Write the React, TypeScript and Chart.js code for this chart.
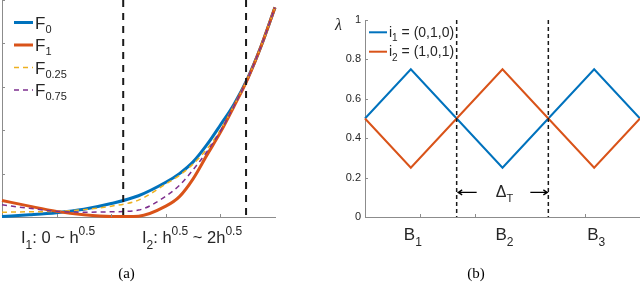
import React, { useEffect, useRef } from "react";
import { Chart, registerables } from "chart.js";
Chart.register(...registerables);

// ---------- Panel (a) data ----------
const aX = [0, 0.5, 1, 1.5, 2, 2.5, 3, 3.25, 3.5, 3.75, 4, 4.25, 4.5, 4.75, 5];
const aF0 = [0.01, 0.05, 0.1, 0.18, 0.31, 0.49, 0.8, 1.0, 1.27, 1.66, 2.12, 2.6, 3.2, 3.95, 4.83];
const aF1 = [0.38, 0.25, 0.13, 0.05, 0.01, 0.02, 0.25, 0.47, 0.88, 1.42, 1.95, 2.55, 3.18, 3.95, 4.83];
const aF025 = [0.11, 0.12, 0.13, 0.17, 0.25, 0.39, 0.76, 0.96, 1.22, 1.56, 2.0, 2.57, 3.19, 3.95, 4.83];
const aF075 = [0.28, 0.2, 0.13, 0.11, 0.12, 0.16, 0.48, 0.73, 1.09, 1.5, 1.98, 2.56, 3.19, 3.95, 4.83];
const aLegendBase = "F";
const aLegendSubs = ["0", "1", "0.25", "0.75"];
const aDividers = [2.22, 4.47];
const aXTicks = [1, 2, 3, 4];
const aYTicks = [1, 2, 3, 4, 5];

// ---------- Panel (b) data ----------
const bX = [0, 0.5, 1, 1.5, 2, 2.5, 3];
const bI1 = [0.5, 0.75, 0.5, 0.25, 0.5, 0.75, 0.5];
const bI2 = [0.5, 0.25, 0.5, 0.75, 0.5, 0.25, 0.5];
const bLegendSubs = ["1", "2"];
const bLegendRest = [" = (0,1,0)", " = (1,0,1)"];
const bDividers = [1, 2];
const bXTicks = [0.6, 1.2, 2.4];
const bYTicks = [0, 0.2, 0.4, 0.6, 0.8, 1];
const bBlockSubs = ["1", "2", "3"];
const bBlockCenters = [0.5, 1.5, 2.5];
const bDeltaLevel = 0.125;

// ---------- styles ----------
const SANS = "'Liberation Sans', Arial, Helvetica, sans-serif";
const SERIF = "'Liberation Serif', 'Times New Roman', serif";
const AXIS = "#8c8c8c";
const TEXT = "#262626";
const aColors = ["#0072BD", "#D95319", "#EDB120", "#7E2F8E"];
const bColors = ["#0072BD", "#D95319"];

type Part = [string, "n" | "sub" | "sup"];

function drawRich(
  ctx: CanvasRenderingContext2D,
  x: number,
  y: number,
  parts: Part[],
  size: number,
  subSize: number,
  subDy: number,
  supDy: number,
  align: "left" | "center" = "left",
  family: string = SANS,
  color: string = TEXT
) {
  const fontFor = (m: string) => `${m === "n" ? size : subSize}px ${family}`;
  let total = 0;
  for (const [t, m] of parts) {
    ctx.font = fontFor(m);
    total += ctx.measureText(t).width;
  }
  let cx = align === "center" ? x - total / 2 : x;
  ctx.save();
  ctx.fillStyle = color;
  ctx.textAlign = "left";
  ctx.textBaseline = "alphabetic";
  for (const [t, m] of parts) {
    ctx.font = fontFor(m);
    const dy = m === "sub" ? subDy : m === "sup" ? supDy : 0;
    ctx.fillText(t, cx, y + dy);
    cx += ctx.measureText(t).width;
  }
  ctx.restore();
}

function hiddenScale(min: number, max: number, labels = false) {
  return {
    type: "linear" as const,
    min,
    max,
    grid: { display: false, drawTicks: false },
    border: { display: true, color: AXIS, width: 1 },
    ticks: labels
      ? { display: true, padding: 4, color: TEXT, font: { family: SANS, size: 11 } }
      : { display: false },
  };
}

function inwardTicks(chart: any, xt: number[], yt: number[]) {
  const { ctx, chartArea, scales } = chart;
  ctx.save();
  ctx.strokeStyle = AXIS;
  ctx.lineWidth = 1;
  ctx.beginPath();
  for (const v of xt) {
    const px = Math.round(scales.x.getPixelForValue(v)) + 0.5;
    ctx.moveTo(px, chartArea.bottom);
    ctx.lineTo(px, chartArea.bottom - 3);
  }
  for (const v of yt) {
    const py = Math.round(scales.y.getPixelForValue(v)) + 0.5;
    ctx.moveTo(chartArea.left, py);
    ctx.lineTo(chartArea.left + 3, py);
  }
  ctx.stroke();
  ctx.restore();
}

function dividers(chart: any, xs: number[], width: number, dash: number[], topVal: number) {
  const { ctx, chartArea, scales } = chart;
  ctx.save();
  ctx.strokeStyle = "#1a1a1a";
  ctx.lineWidth = width;
  ctx.setLineDash(dash);
  for (const v of xs) {
    const px = scales.x.getPixelForValue(v);
    ctx.beginPath();
    ctx.moveTo(px, scales.y.getPixelForValue(topVal));
    ctx.lineTo(px, chartArea.bottom);
    ctx.stroke();
  }
  ctx.restore();
}

const pluginA = {
  id: "panelA",
  afterDatasetsDraw(chart: any) {
    dividers(chart, aDividers, 2, [7, 6], 5);
  },
  afterDraw(chart: any) {
    const { ctx } = chart;
    inwardTicks(chart, aXTicks, aYTicks);
    // legend
    chart.data.datasets.forEach((ds: any, i: number) => {
      const y = 22.5 + i * 22.5;
      ctx.save();
      ctx.strokeStyle = ds.borderColor;
      ctx.lineWidth = ds.borderWidth;
      ctx.setLineDash(ds.borderDash || []);
      ctx.beginPath();
      ctx.moveTo(14, y);
      ctx.lineTo(33, y);
      ctx.stroke();
      ctx.restore();
      drawRich(ctx, 35, y + 6, [[aLegendBase, "n"], [aLegendSubs[i], "sub"]], 17, 11, 4, 0);
    });
    // interval labels
    drawRich(
      ctx, 21, 243,
      [["I", "n"], ["1", "sub"], [": 0 ~ h", "n"], ["0.5", "sup"]],
      16.5, 12, 6, -8
    );
    drawRich(
      ctx, 142, 243,
      [["I", "n"], ["2", "sub"], [": h", "n"], ["0.5", "sup"], [" ~ 2h", "n"], ["0.5", "sup"]],
      16.5, 12, 6, -8
    );
    drawRich(ctx, 126.5, 278, [["(a)", "n"]], 15, 15, 0, 0, "center", SERIF, "#000");
  },
};

function arrow(ctx: CanvasRenderingContext2D, x1: number, x2: number, y: number) {
  const dir = Math.sign(x2 - x1);
  ctx.beginPath();
  ctx.moveTo(x1, y);
  ctx.lineTo(x2, y);
  ctx.moveTo(x2 - dir * 4, y - 2.5);
  ctx.lineTo(x2, y);
  ctx.lineTo(x2 - dir * 4, y + 2.5);
  ctx.stroke();
}

const pluginB = {
  id: "panelB",
  afterDatasetsDraw(chart: any) {
    dividers(chart, bDividers, 1.5, [4, 3], 1);
  },
  afterDraw(chart: any) {
    const { ctx, scales } = chart;
    inwardTicks(chart, bXTicks, bYTicks);
    // legend
    chart.data.datasets.forEach((ds: any, i: number) => {
      const y = 32.3 + i * 19.4;
      ctx.save();
      ctx.strokeStyle = ds.borderColor;
      ctx.lineWidth = ds.borderWidth;
      ctx.beginPath();
      ctx.moveTo(49, y);
      ctx.lineTo(67, y);
      ctx.stroke();
      ctx.restore();
      drawRich(ctx, 69, y + 4.5, [["i", "n"], [bLegendSubs[i], "sub"], [bLegendRest[i], "n"]], 14, 10, 4.5, 0);
    });
    // block labels
    bBlockCenters.forEach((c, i) => {
      drawRich(ctx, scales.x.getPixelForValue(c) + 2, 240, [["B", "n"], [bBlockSubs[i], "sub"]], 17, 12, 6, 0, "center");
    });
    // Delta_T arrows
    const yA = scales.y.getPixelForValue(bDeltaLevel);
    const xL = scales.x.getPixelForValue(bDividers[0]);
    const xR = scales.x.getPixelForValue(bDividers[1]);
    ctx.save();
    ctx.strokeStyle = "#000";
    ctx.lineWidth = 1.3;
    arrow(ctx, xL + 20, xL + 1.5, yA);
    arrow(ctx, xR - 18, xR - 1, yA);
    ctx.restore();
    drawRich(ctx, (xL + xR) / 2 + 2, yA + 5, [["Δ", "n"], ["T", "sub"]], 16, 11, 5, 0, "center");
    // lambda
    ctx.save();
    ctx.font = `italic 16px ${SERIF}`;
    ctx.fillStyle = TEXT;
    ctx.textAlign = "left";
    ctx.fillText("λ", 15, 30);
    ctx.restore();
    drawRich(ctx, 156, 278, [["(b)", "n"]], 15, 15, 0, 0, "center", SERIF, "#000");
  },
};

export default function App() {
  const refA = useRef<HTMLCanvasElement>(null);
  const refB = useRef<HTMLCanvasElement>(null);

  useEffect(() => {
    document.body.style.margin = "0";
    const aSeries = [aF0, aF1, aF025, aF075];
    const chartA = new Chart(refA.current!, {
      type: "line",
      data: {
        datasets: aSeries.map((vals, i) => ({
          label: aLegendBase + aLegendSubs[i],
          data: aX.map((x, j) => ({ x, y: vals[j] })),
          borderColor: aColors[i],
          borderWidth: i < 2 ? 3 : 1.5,
          borderDash: i < 2 ? [] : [5, 4],
          pointRadius: 0,
          cubicInterpolationMode: "monotone" as const,
          clip: false as any,
          order: 4 - i,
        })),
      },
      options: {
        responsive: false,
        animation: false,
        layout: { padding: { left: 2, right: 45, top: 0, bottom: 66 } },
        plugins: { legend: { display: false }, tooltip: { enabled: false } },
        scales: {
          x: { ...hiddenScale(0, 5), afterFit: (s: any) => { s.height = 0; } },
          y: { ...hiddenScale(0, 5), afterFit: (s: any) => { s.width = 0; } },
        } as any,
      },
      plugins: [pluginA],
    });

    const bSeries = [bI1, bI2];
    const chartB = new Chart(refB.current!, {
      type: "line",
      data: {
        datasets: bSeries.map((vals, i) => ({
          label: "i" + bLegendSubs[i],
          data: bX.map((x, j) => ({ x, y: vals[j] })),
          borderColor: bColors[i],
          borderWidth: 2,
          pointRadius: 0,
          tension: 0,
          clip: false as any,
          order: 2 - i,
        })),
      },
      options: {
        responsive: false,
        animation: false,
        layout: { padding: { left: 0, right: 0, top: 20, bottom: 66 } },
        plugins: { legend: { display: false }, tooltip: { enabled: false } },
        scales: {
          x: { ...hiddenScale(0, 3), afterFit: (s: any) => { s.height = 0; } },
          y: {
            ...hiddenScale(0, 1, true),
            afterFit: (s: any) => { s.width = 45; },
            afterBuildTicks: (s: any) => { s.ticks = bYTicks.map((v) => ({ value: v })); },
            ticks: {
              display: true,
              padding: 4,
              color: TEXT,
              font: { family: SANS, size: 11 },
              callback: (v: any) => String(Math.round(Number(v) * 10) / 10),
            },
          },
        } as any,
      },
      plugins: [pluginB],
    });

    return () => {
      chartA.destroy();
      chartB.destroy();
    };
  }, []);

  return (
    <div style={{ position: "relative", width: 640, height: 283, background: "#fff", overflow: "hidden" }}>
      <canvas ref={refA} width={320} height={283} style={{ position: "absolute", left: 0, top: 0, width: 320, height: 283 }} />
      <canvas ref={refB} width={320} height={283} style={{ position: "absolute", left: 320, top: 0, width: 320, height: 283 }} />
    </div>
  );
}
